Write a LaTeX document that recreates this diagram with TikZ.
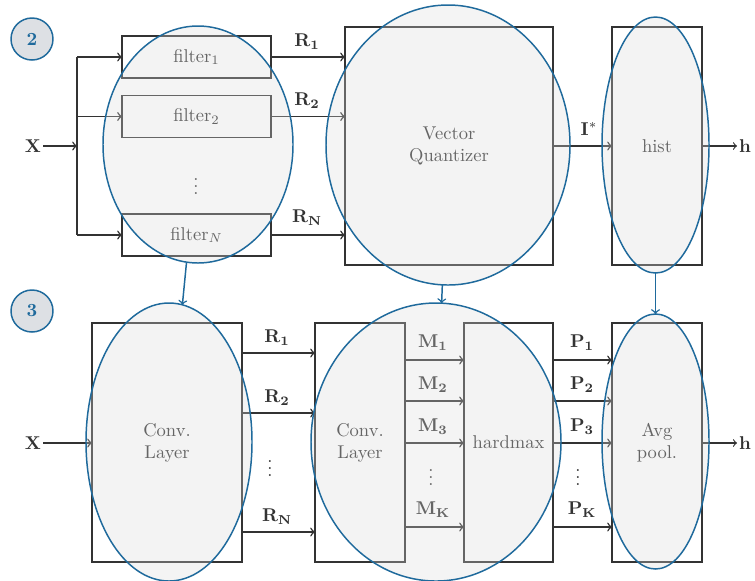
\documentclass[tikz,border=0pt]{standalone}
\usetikzlibrary{shapes.geometric}
\definecolor{hlblue}{RGB}{31,106,156}
\definecolor{ink}{RGB}{51,51,51}
\definecolor{badgefill}{RGB}{221,224,228}
\newcommand\pxu{0.54pt}
\tikzset{
  blk/.style={draw=ink, fill=white, line width=0.9pt, text=ink, align=center,
              inner sep=0pt, outer sep=0pt},
  hl/.style={ellipse, draw=hlblue, line width=0.8pt, fill=gray!30, fill opacity=0.3,
             inner sep=0pt, outer sep=0pt},
  wire/.style={draw=ink, line width=0.8pt},
  arr/.style={wire, ->},
  lbl/.style={text=ink, inner sep=1pt},
  badge/.style={circle, draw=hlblue, fill=badgefill, line width=0.8pt, text=hlblue,
                minimum size=42*\pxu, inner sep=0pt, font=\bfseries},
  link/.style={draw=hlblue, line width=0.8pt, ->},
}
\begin{document}
\begin{tikzpicture}[x=\pxu, y=-\pxu]
\useasboundingbox (0,0) rectangle (755,580);

% ---------- stage 2: filter bank + vector quantizer + histogram ----------
\node[badge] (b2) at (32,39) {2};

\node[blk, minimum width=149*\pxu, minimum height=42*\pxu] (f1) at (196.5,57) {filter$_1$};
\node[blk, minimum width=149*\pxu, minimum height=42*\pxu] (f2) at (196.5,116.5) {filter$_2$};
\node[blk, minimum width=149*\pxu, minimum height=42*\pxu] (fN) at (196.5,235) {filter$_N$};
\node[lbl] (fdots) at (196,181) {$\vdots$};

\node[blk, minimum width=208*\pxu, minimum height=238*\pxu] (vq) at (449,146) {Vector\\Quantizer};
\node[blk, minimum width=90*\pxu, minimum height=238*\pxu] (hist) at (657,146) {hist};

\node[lbl] (xtop) at (33,146) {$\mathbf{X}$};
\coordinate (split) at (77,146);
\coordinate (s1) at (77,57);
\coordinate (s2) at (77,116.5);
\coordinate (sN) at (77,235);
\draw[arr] (xtop) -- (split);
\draw[wire] (s1) -- (sN);
\draw[arr] (s1) -- (f1.west);
\draw[arr] (s2) -- (f2.west);
\draw[arr] (sN) -- (fN.west);

\draw[arr] (f1.east) -- (vq.west |- f1.east);
\draw[arr] (f2.east) -- (vq.west |- f2.east);
\draw[arr] (fN.east) -- (vq.west |- fN.east);
\node[lbl] (r1t) at (307,42) {$\mathbf{R_1}$};
\node[lbl] (r2t) at (307,101) {$\mathbf{R_2}$};
\node[lbl] (rNt) at (307,218) {$\mathbf{R_N}$};

\draw[arr] (vq.east |- hist.west) -- (hist.west);
\node[lbl] (istar) at (589,129) {$\mathbf{I}^{*}$};

\node[lbl, anchor=west] (htop) at (737,146) {$\mathbf{h}$};
\draw[arr, line width=0.6pt] (hist.east) -- (htop.west);

% ---------- stage 3: convolutional layers + hardmax + average pooling ----------
\node[badge] (b3) at (32,311) {3};

\node[blk, minimum width=150*\pxu, minimum height=239*\pxu] (conv1) at (167,442.5) {Conv.\\Layer};
\node[blk, minimum width=90*\pxu, minimum height=239*\pxu] (conv2) at (360,442.5) {Conv.\\Layer};
\node[blk, minimum width=89*\pxu, minimum height=239*\pxu] (hmax) at (508.5,442.5) {hardmax};
\node[blk, minimum width=90*\pxu, minimum height=239*\pxu] (avg) at (657,442.5) {Avg\\pool.};

\node[lbl] (xbot) at (33,443) {$\mathbf{X}$};
\draw[arr] (xbot) -- (conv1.west |- xbot);

% feature maps R
\coordinate (ra) at (242,353);
\coordinate (rb) at (242,413);
\coordinate (rc) at (242,532);
\draw[arr] (ra) -- (conv2.west |- ra);
\draw[arr] (rb) -- (conv2.west |- rb);
\draw[arr] (rc) -- (conv2.west |- rc);
\node[lbl] (r1b) at (277,338) {$\mathbf{R_1}$};
\node[lbl] (r2b) at (277,398) {$\mathbf{R_2}$};
\node[lbl] (rNb) at (277,517) {$\mathbf{R_N}$};
\node[lbl] (rdots) at (270,463) {$\vdots$};

% similarity maps M
\coordinate (ma) at (405,360);
\coordinate (mb) at (405,401);
\coordinate (mc) at (405,443);
\coordinate (mk) at (405,527);
\draw[arr] (ma) -- (hmax.west |- ma);
\draw[arr] (mb) -- (hmax.west |- mb);
\draw[arr] (mc) -- (hmax.west |- mc);
\draw[arr] (mk) -- (hmax.west |- mk);
\node[lbl] (m1) at (433,343) {$\mathbf{M_1}$};
\node[lbl] (m2) at (433,385) {$\mathbf{M_2}$};
\node[lbl] (m3) at (433,427) {$\mathbf{M_3}$};
\node[lbl] (mK) at (433,510) {$\mathbf{M_K}$};
\node[lbl] (mdots) at (431,472) {$\vdots$};

% membership maps P
\coordinate (pa) at (553,360);
\coordinate (pb) at (553,401);
\coordinate (pc) at (553,443);
\coordinate (pk) at (553,527);
\draw[arr] (pa) -- (avg.west |- pa);
\draw[arr] (pb) -- (avg.west |- pb);
\draw[arr] (pc) -- (avg.west |- pc);
\draw[arr] (pk) -- (avg.west |- pk);
\node[lbl] (p1) at (582,343) {$\mathbf{P_1}$};
\node[lbl] (p2) at (582,385) {$\mathbf{P_2}$};
\node[lbl] (p3) at (582,427) {$\mathbf{P_3}$};
\node[lbl] (pK) at (582,510) {$\mathbf{P_K}$};
\node[lbl] (pdots) at (578,472) {$\vdots$};

\node[lbl, anchor=west] (hbot) at (737,443) {$\mathbf{h}$};
\draw[arr, line width=0.6pt] (avg.east |- hbot) -- (hbot.west);

% ---------- highlighted correspondences ----------
\node[hl, minimum width=190*\pxu, minimum height=237*\pxu] (e1) at (198,144.5) {};
\node[hl, minimum width=244*\pxu, minimum height=280*\pxu] (e2) at (448,145) {};
\node[hl, minimum width=107*\pxu, minimum height=256*\pxu] (e3) at (655.5,145) {};
\node[hl, minimum width=166*\pxu, minimum height=278*\pxu] (e4) at (169,442) {};
\node[hl, minimum width=250*\pxu, minimum height=278*\pxu] (e5) at (436,442) {};
\node[hl, minimum width=107*\pxu, minimum height=255*\pxu] (e6) at (655.5,441.5) {};

\draw[link] (e1) -- (e4);
\draw[link] (e2) -- (e5);
\draw[link] (e3) -- (e6);
\end{tikzpicture}
\end{document}
